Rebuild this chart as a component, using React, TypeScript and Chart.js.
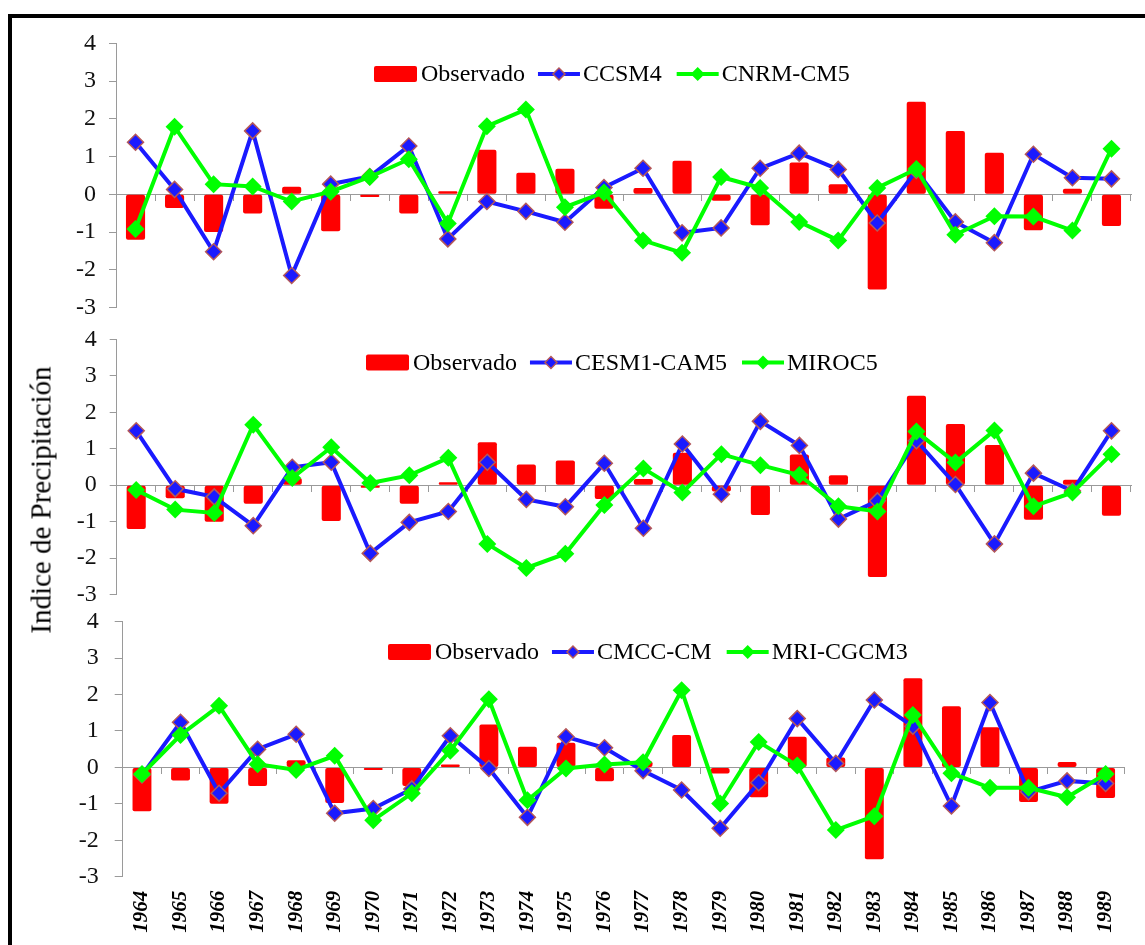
import React, { useEffect, useRef } from 'react';
import { Chart, registerables } from 'chart.js';

Chart.register(...registerables);

const YEARS = ['1964', '1965', '1966', '1967', '1968', '1969', '1970', '1971', '1972', '1973', '1974', '1975', '1976', '1977', '1978', '1979', '1980', '1981', '1982', '1983', '1984', '1985', '1986', '1987', '1988', '1989'];

const OBSERVADO = [-1.2, -0.36, -1.0, -0.51, 0.2, -0.98, -0.07, -0.51, 0.08, 1.18, 0.57, 0.68, -0.38, 0.17, 0.89, -0.17, -0.82, 0.84, 0.27, -2.52, 2.45, 1.68, 1.1, -0.95, 0.15, -0.84];

const CCSM4 = [1.38, 0.13, -1.52, 1.68, -2.15, 0.27, 0.47, 1.28, -1.18, -0.19, -0.45, -0.74, 0.18, 0.69, -1.02, -0.89, 0.69, 1.09, 0.66, -0.76, 0.63, -0.73, -1.28, 1.06, 0.44, 0.41];
const CNRM_CM5 = [-0.92, 1.79, 0.27, 0.21, -0.19, 0.07, 0.46, 0.93, -0.77, 1.8, 2.25, -0.34, 0.05, -1.22, -1.55, 0.46, 0.17, -0.73, -1.22, 0.17, 0.67, -1.07, -0.58, -0.59, -0.96, 1.21];

const CESM1_CAM5 = [1.49, -0.1, -0.32, -1.11, 0.49, 0.63, -1.87, -1.02, -0.72, 0.63, -0.39, -0.59, 0.6, -1.18, 1.13, -0.25, 1.75, 1.09, -0.93, -0.43, 1.22, 0.02, -1.61, 0.33, -0.16, 1.49];
const MIROC5 = [-0.13, -0.67, -0.76, 1.66, 0.2, 1.04, 0.06, 0.27, 0.75, -1.61, -2.27, -1.88, -0.54, 0.46, -0.2, 0.85, 0.55, 0.28, -0.58, -0.72, 1.47, 0.62, 1.5, -0.58, -0.2, 0.85];

const CMCC_CM = [-0.21, 1.24, -0.71, 0.5, 0.91, -1.26, -1.13, -0.59, 0.87, -0.03, -1.37, 0.84, 0.54, -0.09, -0.62, -1.67, -0.42, 1.34, 0.11, 1.85, 1.13, -1.06, 1.78, -0.67, -0.37, -0.44];
const MRI_CGCM3 = [-0.18, 0.89, 1.69, 0.09, -0.07, 0.32, -1.45, -0.71, 0.46, 1.87, -0.9, -0.03, 0.08, 0.14, 2.12, -0.99, 0.7, 0.05, -1.72, -1.34, 1.44, -0.16, -0.56, -0.56, -0.82, -0.18];

const Y_TICKS = [-3, -2, -1, 0, 1, 2, 3, 4];

const PAGE_W = 1145;
const PAGE_H = 945;
const FONT = "'Liberation Serif', 'Times New Roman', serif";
const RED = '#ff0000';
const BLUE = '#1a1aff';
const GREEN = '#00ff00';
const MARKER_EDGE = '#b4585a';
const AXIS = '#9a9a9a';
const TEXT = '#111111';

type Area = { left: number; right: number; top: number; bottom: number };

const legendPlugin = {
  id: 'inlineLegend',
  afterDraw(chart: any, _args: any, opts: any) {
    const ctx = chart.ctx;
    const ds = chart.data.datasets;
    let x = opts.x;
    const y = opts.y;
    ctx.save();
    ctx.font = `24px ${FONT}`;
    ctx.textBaseline = 'middle';
    ctx.textAlign = 'left';
    const order = [2, 1, 0];
    order.forEach((idx, k) => {
      const d = ds[idx];
      if (d.type === 'bar') {
        ctx.fillStyle = d.backgroundColor;
        ctx.beginPath();
        if (ctx.roundRect) ctx.roundRect(x, y - 8, 43, 16, 2);
        else ctx.rect(x, y - 8, 43, 16);
        ctx.fill();
        x += 43 + 4;
      } else {
        ctx.strokeStyle = d.borderColor;
        ctx.lineWidth = 4;
        ctx.beginPath();
        ctx.moveTo(x, y);
        ctx.lineTo(x + 42, y);
        ctx.stroke();
        const cx = x + 21;
        const r = d.pointRadius - 2;
        ctx.beginPath();
        ctx.moveTo(cx - r, y);
        ctx.lineTo(cx, y - r);
        ctx.lineTo(cx + r, y);
        ctx.lineTo(cx, y + r);
        ctx.closePath();
        ctx.fillStyle = d.pointBackgroundColor;
        ctx.fill();
        if (d.pointBorderWidth > 0) {
          ctx.lineWidth = d.pointBorderWidth;
          ctx.strokeStyle = d.pointBorderColor;
          ctx.stroke();
        }
        x += 42 + 3;
      }
      ctx.fillStyle = '#000';
      ctx.fillText(d.label, x, y + 1);
      x += ctx.measureText(d.label).width + (k === 0 ? 13 : 15);
    });
    ctx.restore();
  },
};

type PanelProps = {
  area: Area;
  legendX: number;
  legendY: number;
  showLabels: boolean;
  blueLabel: string;
  blueData: number[];
  greenLabel: string;
  greenData: number[];
  tickLen: number;
  tickPad: number;
};

function Panel(p: PanelProps) {
  const ref = useRef<HTMLCanvasElement>(null);
  const canvasTop = Math.floor(p.area.top - 30);
  const canvasBottom = p.showLabels ? PAGE_H : Math.ceil(p.area.bottom + 20);
  const height = canvasBottom - canvasTop;
  const labelAxisH = 60;

  useEffect(() => {
    if (!ref.current) return;
    const area = p.area;
    const padding = {
      left: 0,
      right: PAGE_W - area.right,
      top: area.top - canvasTop,
      bottom: p.showLabels ? canvasBottom - area.bottom - labelAxisH : canvasBottom - area.bottom,
    };
    const scales: any = {
      x: {
        type: 'category',
        axis: 'x',
        position: { y: 0 },
        offset: true,
        grid: { offset: true, drawOnChartArea: false, drawTicks: true, tickLength: 6, color: AXIS, lineWidth: 1 },
        border: { display: true, color: AXIS, width: 1 },
        ticks: { display: false },
      },
      y: {
        type: 'linear',
        position: 'left',
        min: Y_TICKS[0],
        max: Y_TICKS[Y_TICKS.length - 1],
        afterBuildTicks: (axis: any) => {
          axis.ticks = Y_TICKS.map((v) => ({ value: v }));
        },
        afterFit: (axis: any) => {
          axis.width = area.left;
        },
        grid: { drawOnChartArea: false, drawTicks: true, tickLength: p.tickLen, color: AXIS, lineWidth: 1 },
        border: { display: true, color: AXIS, width: 1 },
        ticks: {
          padding: p.tickPad,
          color: TEXT,
          font: { family: FONT, size: 24 },
          callback: (v: any) => String(v),
        },
      },
    };
    if (p.showLabels) {
      scales.x2 = {
        type: 'category',
        axis: 'x',
        position: 'bottom',
        offset: true,
        afterFit: (axis: any) => {
          axis.height = labelAxisH;
        },
        grid: { display: false, drawTicks: false, drawOnChartArea: false },
        border: { display: false },
        ticks: {
          autoSkip: false,
          maxRotation: 90,
          minRotation: 90,
          padding: 14,
          color: '#000',
          font: { family: FONT, size: 21, weight: 'bold', style: 'italic' },
        },
      };
    }

    const chart = new Chart(ref.current, {
      type: 'bar',
      data: {
        labels: YEARS,
        datasets: [
          {
            type: 'line',
            label: p.greenLabel,
            data: p.greenData,
            xAxisID: 'x',
            yAxisID: 'y',
            order: 1,
            borderColor: GREEN,
            backgroundColor: GREEN,
            borderWidth: 4,
            tension: 0,
            pointStyle: 'rectRot',
            pointRadius: 9,
            pointBackgroundColor: GREEN,
            pointBorderColor: GREEN,
            pointBorderWidth: 0,
          } as any,
          {
            type: 'line',
            label: p.blueLabel,
            data: p.blueData,
            xAxisID: 'x',
            yAxisID: 'y',
            order: 2,
            borderColor: BLUE,
            backgroundColor: BLUE,
            borderWidth: 4,
            tension: 0,
            pointStyle: 'rectRot',
            pointRadius: 8,
            pointBackgroundColor: BLUE,
            pointBorderColor: MARKER_EDGE,
            pointBorderWidth: 1.5,
          } as any,
          {
            type: 'bar',
            label: 'Observado',
            data: OBSERVADO,
            xAxisID: 'x',
            yAxisID: 'y',
            order: 3,
            backgroundColor: RED,
            borderWidth: 0,
            borderRadius: 2,
            borderSkipped: false,
            categoryPercentage: 0.5,
            barPercentage: 0.98,
          } as any,
        ],
      },
      options: {
        responsive: false,
        animation: false,
        events: [],
        layout: { padding },
        scales,
        plugins: {
          legend: { display: false },
          tooltip: { enabled: false },
          inlineLegend: { x: p.legendX, y: p.legendY - canvasTop },
        } as any,
      },
      plugins: [legendPlugin],
    });
    return () => chart.destroy();
  }, []);

  return (
    <canvas
      ref={ref}
      width={PAGE_W}
      height={height}
      style={{ position: 'absolute', left: 0, top: canvasTop, width: PAGE_W, height }}
    />
  );
}

export default function App() {
  return (
    <div
      style={{
        position: 'fixed',
        left: 0,
        top: 0,
        width: PAGE_W,
        height: PAGE_H,
        overflow: 'hidden',
        background: '#fff',
      }}
    >
      <div
        style={{
          position: 'absolute',
          left: 8,
          top: 14,
          width: 1200,
          height: 1000,
          border: '4px solid #000',
          boxSizing: 'border-box',
        }}
      />
      <Panel
        area={{ left: 116, right: 1131, top: 43.3, bottom: 315 }}
        legendX={374}
        legendY={74}
        showLabels={false}
        blueLabel="CCSM4"
        blueData={CCSM4}
        greenLabel="CNRM-CM5"
        greenData={CNRM_CM5}
        tickLen={7}
        tickPad={13}
      />
      <Panel
        area={{ left: 116.7, right: 1131, top: 339.3, bottom: 601.7 }}
        legendX={366}
        legendY={362.5}
        showLabels={false}
        blueLabel="CESM1-CAM5"
        blueData={CESM1_CAM5}
        greenLabel="MIROC5"
        greenData={MIROC5}
        tickLen={7}
        tickPad={13}
      />
      <Panel
        area={{ left: 122.7, right: 1136.7, top: 621.7, bottom: 876.7 }}
        legendX={388}
        legendY={652}
        showLabels={true}
        blueLabel="CMCC-CM"
        blueData={CMCC_CM}
        greenLabel="MRI-CGCM3"
        greenData={MRI_CGCM3}
        tickLen={8}
        tickPad={16}
      />
      <div
        style={{
          position: 'absolute',
          left: 41,
          top: 499.5,
          transform: 'translate(-50%, -50%) rotate(-90deg)',
          whiteSpace: 'nowrap',
          fontFamily: FONT,
          fontSize: 29,
          color: '#000',
          lineHeight: 1,
        }}
      >
        Indice de Precipitación
      </div>
    </div>
  );
}
